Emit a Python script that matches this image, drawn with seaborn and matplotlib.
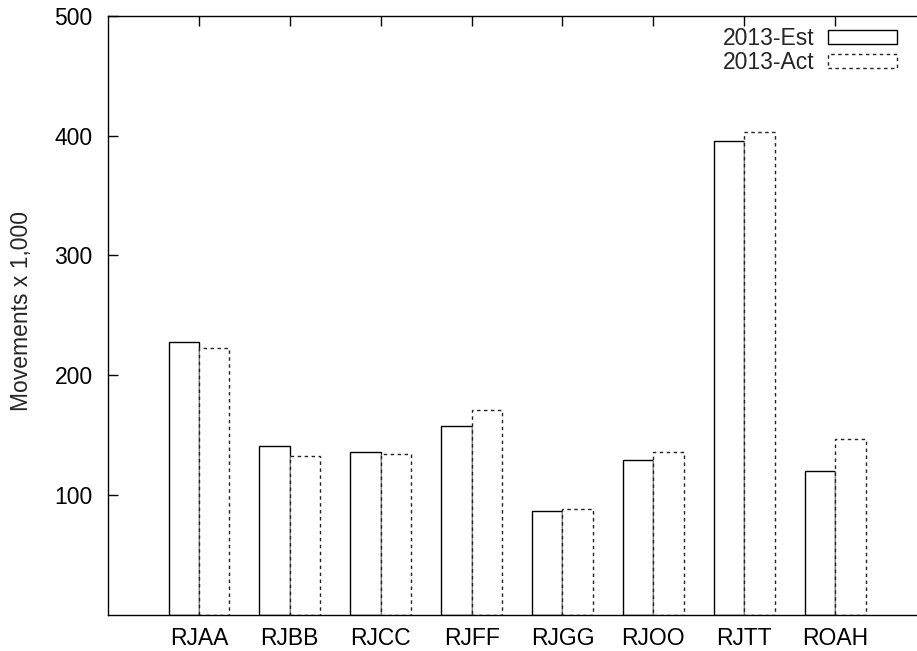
import matplotlib
matplotlib.use("Agg")
import matplotlib.pyplot as plt
import seaborn as sns
import pandas as pd

categories = ["RJAA", "RJBB", "RJCC", "RJFF", "RJGG", "RJOO", "RJTT", "ROAH"]
est_2013 = [228, 141, 135.5, 157.5, 86.5, 129, 395.5, 120]
act_2013 = [223, 132, 134, 170.5, 88.5, 136, 403, 147]
series_names = ["2013-Est", "2013-Act"]
y_ticks = [100, 200, 300, 400, 500]

df = pd.DataFrame({
    "airport": categories * 2,
    "value": est_2013 + act_2013,
    "series": [series_names[0]] * len(categories) + [series_names[1]] * len(categories),
})

sns.set_theme(style="white")
plt.rcParams["font.family"] = ["Liberation Sans", "DejaVu Sans"]

fig = plt.figure(figsize=(9.17, 6.51), dpi=100)
ax = fig.add_axes([108 / 917, 1 - 614.5 / 651, 1 - 108 / 917, (614.5 - 16) / 651])

sns.barplot(data=df, x="airport", y="value", hue="series", order=categories,
            hue_order=series_names, width=0.667,
            palette=["white", "white"], edgecolor="black", linewidth=1.0,
            ax=ax, legend=False)

for bar in ax.containers[1]:
    bar.set_linestyle((0, (2.5, 2.5)))
    bar.set_edgecolor("#222222")

ax.set_xlim(-1, 7.9)
ax.set_ylim(0, 500)
ax.set_yticks(y_ticks)
ax.set_yticklabels([str(t) for t in y_ticks])
ax.set_xlabel("")
ax.set_ylabel("Movements x 1,000", fontsize=16.5)
ax.yaxis.set_label_coords(-0.093, 0.507)

ax.tick_params(axis="both", direction="in", length=7, width=1, color="black",
               labelsize=16.5, labelcolor="black")
ax.tick_params(axis="x", top=True, bottom=True, pad=9)
ax.tick_params(axis="y", left=True, right=False, pad=11)

for name, sp in ax.spines.items():
    sp.set_color("black")
    sp.set_linewidth(1.0)
ax.spines["right"].set_visible(False)

ax.legend(handles=[ax.containers[0], ax.containers[1]], labels=series_names,
          loc="upper right", bbox_to_anchor=(0.995, 1.008), frameon=False,
          markerfirst=False, fontsize=16.5, handlelength=3.0, handleheight=0.55,
          handletextpad=0.6, labelspacing=0.05, borderaxespad=0.3)

fig.savefig("out.png", dpi=100)
